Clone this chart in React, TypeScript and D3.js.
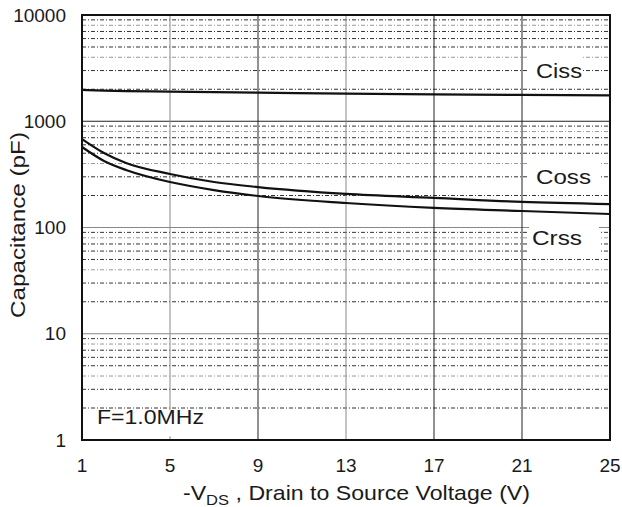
import React from 'react';
import * as d3 from 'd3';

// Drain-source voltage samples (V)
const vds = [1, 2, 3, 5, 7, 9, 13, 17, 21, 25];
// Capacitance values (pF)
const ciss = [1970, 1940, 1920, 1900, 1880, 1860, 1820, 1790, 1770, 1750];
const coss = [680, 503, 405, 319, 268, 240, 207, 190, 174, 166];
const crss = [572, 423, 348, 268, 225, 198, 170, 153, 143, 134];

const xTicks = [1, 5, 9, 13, 17, 21, 25];
const yTicks = [1, 10, 100, 1000, 10000];
const curveLabels = [
  { name: 'Ciss', value: 3000, top: 4500, bottom: 2500, width: 54 },
  { name: 'Coss', value: 300, top: 420, bottom: 230, width: 70 },
  { name: 'Crss', value: 80, top: 102, bottom: 57, width: 70 },
];

const W = 622;
const H = 507;
const margin = { top: 15, right: 12, bottom: 67, left: 82 };
const FONT = 'Arial, "Liberation Sans", sans-serif';
const INK = '#1a1a1a';

export default function App() {
  const x = d3.scaleLinear().domain([1, 25]).range([margin.left, W - margin.right]);
  const y = d3.scaleLog().domain([1, 10000]).range([H - margin.bottom, margin.top]);

  // minor log grid: 2..9 in each decade
  const minor: number[] = [];
  for (let d = 1; d < 10000; d *= 10) {
    for (let k = 2; k <= 9; k++) minor.push(d * k);
  }
  const majorInner = [10, 100, 1000];

  const line = d3
    .line<number>()
    .x((_, i) => x(vds[i]))
    .y((d) => y(d))
    .curve(d3.curveMonotoneX);

  const x0 = x.range()[0];
  const x1 = x.range()[1];
  const y0 = y.range()[0];
  const y1 = y.range()[1];

  // measured label widths in the original
  const labelLen: Record<string, number> = { Ciss: 46, Coss: 55, Crss: 50 };

  return (
    <svg
      width={W}
      height={H}
      style={{ position: 'absolute', left: 0, top: 0, background: '#fff' }}
      fontFamily={FONT}
    >
      {/* minor horizontal grid */}
      <g strokeWidth={1} fill="none">
        {minor.map((v, i) => (
          <line
            key={v}
            x1={x0}
            x2={x1}
            y1={y(v)}
            y2={y(v)}
            stroke={i % 4 === 2 ? '#999' : '#333'}
            strokeDasharray="4,2,1,2"
          />
        ))}
        {majorInner.map((v) => (
          <line key={v} x1={x0} x2={x1} y1={y(v)} y2={y(v)} stroke={v === 1000 ? '#222' : '#888'} />
        ))}
      </g>

      {/* vertical grid */}
      <g>
        {xTicks.slice(1, -1).map((t) => (
          <line
            key={t}
            x1={x(t)}
            x2={x(t)}
            y1={y1}
            y2={y0}
            stroke={t === 5 || t === 13 ? '#888' : '#222'}
            strokeWidth={1}
          />
        ))}
      </g>

      {/* curve labels with white backing */}
      {curveLabels.map((l) => (
        <g key={l.name}>
          <rect
            x={529}
            y={y(l.top)}
            width={l.width}
            height={y(l.bottom) - y(l.top)}
            fill="#fff"
          />
          <text
            x={l.name === 'Crss' ? 532 : 536}
            y={y(l.value)}
            dy="0.35em"
            fontSize={21}
            fill={INK}
            textLength={labelLen[l.name]}
            lengthAdjust="spacingAndGlyphs"
          >
            {l.name}
          </text>
        </g>
      ))}

      {/* frequency note */}
      <rect x={92} y={y(1.6) - 8} width={120} height={26} fill="#fff" />
      <text
        x={97}
        y={y(1) - 16}
        fontSize={21}
        fill={INK}
        textLength={107}
        lengthAdjust="spacingAndGlyphs"
      >
        F=1.0MHz
      </text>

      {/* curves */}
      <g fill="none" stroke="#111" strokeWidth={2.2}>
        <path d={line(ciss) || ''} />
        <path d={line(coss) || ''} />
        <path d={line(crss) || ''} />
      </g>

      {/* frame */}
      <rect x={x0} y={y1} width={x1 - x0} height={y0 - y1} fill="none" stroke="#111" strokeWidth={2} />

      {/* y tick labels */}
      <g fontSize={19} fill={INK} textAnchor="end">
        {yTicks.map((t) => (
          <text key={t} x={x0 - 16} y={y(t)} dy="0.35em">
            {t}
          </text>
        ))}
      </g>

      {/* x tick labels */}
      <g fontSize={19} fill={INK} textAnchor="middle">
        {xTicks.map((t) => (
          <text key={t} x={x(t)} y={y0 + 32}>
            {t}
          </text>
        ))}
      </g>

      {/* axis titles */}
      <text
        transform={`translate(25,225) rotate(-90)`}
        textAnchor="middle"
        fontSize={21}
        fill={INK}
        textLength={186}
        lengthAdjust="spacingAndGlyphs"
      >
        Capacitance (pF)
      </text>
      <text
        x={183}
        y={500}
        fontSize={21}
        fill={INK}
        textLength={347}
        lengthAdjust="spacingAndGlyphs"
      >
        -V<tspan fontSize={15} dy={5}>DS</tspan>
        <tspan dy={-5}> , Drain to Source Voltage (V)</tspan>
      </text>
    </svg>
  );
}
